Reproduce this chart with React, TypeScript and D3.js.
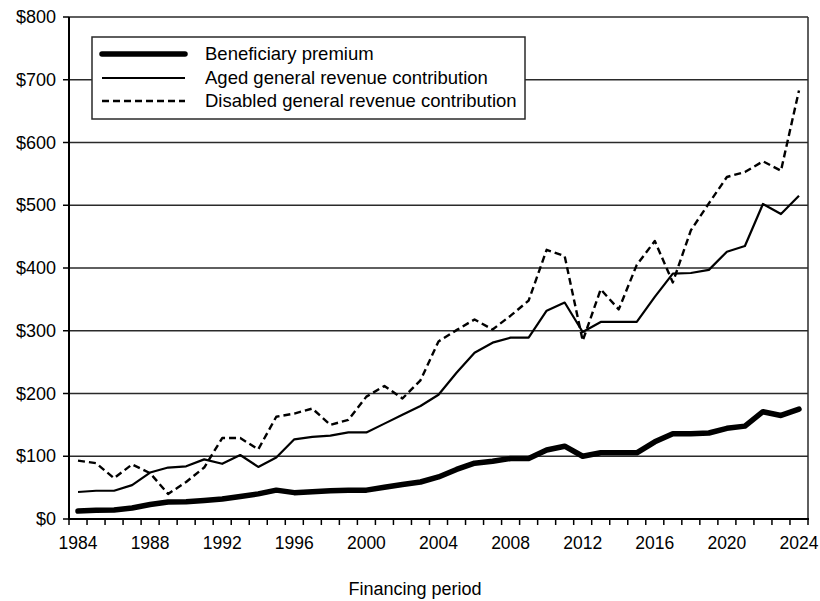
import React from "react";
import * as d3 from "d3";

const years: number[] = d3.range(1984, 2025);

const premium: number[] = [
  12.7, 14, 14.5, 17.5, 23, 27, 27.5, 29.5, 32, 36, 40, 46, 42, 43.5, 45, 46, 46, 50.5, 55, 59,
  67, 79, 89, 92, 96.5, 96.5, 110, 116, 100, 105.5, 105.5, 105.5, 123, 136, 136, 137, 144.5, 148,
  171, 165, 175,
];

const aged: number[] = [
  43, 45, 45, 54, 74, 82, 84, 95, 88, 102, 83, 98, 127, 131, 133, 138, 138, 152, 166, 180, 198,
  233, 265, 281, 289, 289, 332, 345, 298, 314, 314, 314, 354, 391, 392, 397, 426, 435, 502, 486,
  515,
];

const disabled: number[] = [
  93, 89, 65, 87, 73, 40, 59, 82, 129, 129, 111, 163, 168, 176, 150, 158, 195, 212, 192, 221, 283,
  301, 318, 302, 324, 348, 429, 419, 284, 366, 334, 405, 443, 377, 460, 503, 545, 553, 570, 555,
  683,
];

const seriesNames: string[] = [
  "Beneficiary premium",
  "Aged general revenue contribution",
  "Disabled general revenue contribution",
];

const yTicks: number[] = [0, 100, 200, 300, 400, 500, 600, 700, 800];
const xTickLabels: number[] = [1984, 1988, 1992, 1996, 2000, 2004, 2008, 2012, 2016, 2020, 2024];
const xTitle = "Financing period";

const W = 820;
const H = 601;
const L = 69;
const R = 808;
const T = 17;
const B = 519;
const FONT = "'Liberation Sans', Arial, sans-serif";

export default function App() {
  const x = d3
    .scaleBand<number>()
    .domain(years)
    .range([L, R])
    .paddingInner(0)
    .paddingOuter(0);
  const cx = (yr: number) => (x(yr) as number) + x.bandwidth() / 2;
  const y = d3.scaleLinear().domain([0, 800]).range([B, T]);

  const line = d3
    .line<number>()
    .x((_, i) => cx(years[i]))
    .y((d) => y(d))
    .curve(d3.curveLinear);

  const styles = [
    { data: premium, width: 5.5, dash: undefined as string | undefined },
    { data: aged, width: 2.2, dash: undefined as string | undefined },
    { data: disabled, width: 2.4, dash: "7,4" },
  ];

  const boundaries = years.map((yr) => x(yr) as number).concat([R]);

  return (
    <svg
      width={W}
      height={H}
      style={{ position: "absolute", left: 0, top: 0, background: "#fff" }}
      fontFamily={FONT}
    >
      <rect x={0} y={0} width={W} height={H} fill="#fff" />
      {/* gridlines */}
      {yTicks
        .filter((t) => t > 0)
        .map((t) => (
          <line key={t} x1={L} x2={R} y1={y(t)} y2={y(t)} stroke="#2a2a2a" strokeWidth={1.5} />
        ))}
      {/* right border */}
      <line x1={R} x2={R} y1={T} y2={B} stroke="#2a2a2a" strokeWidth={1.5} />

      {/* series */}
      {styles.map((s, i) => (
        <path
          key={i}
          d={line(s.data) || ""}
          fill="none"
          stroke="#000"
          strokeWidth={s.width}
          strokeDasharray={s.dash}
          strokeLinejoin="round"
          strokeLinecap={i === 0 ? "round" : "butt"}
        />
      ))}

      {/* axes */}
      <line x1={L} x2={L} y1={T} y2={B + 1} stroke="#000" strokeWidth={2} />
      <line x1={L - 1} x2={R + 1} y1={B} y2={B} stroke="#000" strokeWidth={2} />
      {yTicks.map((t) => (
        <g key={t}>
          <line x1={L - 6} x2={L} y1={y(t)} y2={y(t)} stroke="#000" strokeWidth={1.5} />
          <text
            x={56}
            y={y(t)}
            textAnchor="end"
            dominantBaseline="central"
            fontSize={18}
            fill="#000"
          >
            {"$" + t}
          </text>
        </g>
      ))}
      {boundaries.map((bx, i) => (
        <line key={i} x1={bx} x2={bx} y1={B} y2={B + 6} stroke="#000" strokeWidth={1.5} />
      ))}
      {xTickLabels.map((yr) => (
        <text key={yr} x={cx(yr)} y={549} textAnchor="middle" fontSize={17.5} fill="#000">
          {yr}
        </text>
      ))}
      <text x={415} y={595} textAnchor="middle" fontSize={18} fill="#000">
        {xTitle}
      </text>

      {/* legend */}
      <rect x={92} y={37} width={433} height={82} fill="#fff" stroke="#2a2a2a" strokeWidth={1.5} />
      {seriesNames.map((name, i) => {
        const ry = [54, 78, 101][i];
        return (
          <g key={name}>
            <line
              x1={102}
              x2={185}
              y1={ry}
              y2={ry}
              stroke="#000"
              strokeWidth={styles[i].width}
              strokeDasharray={styles[i].dash}
              strokeLinecap={i === 0 ? "round" : "butt"}
            />
            <text x={205} y={ry + 6} fontSize={18.5} fill="#000">
              {name}
            </text>
          </g>
        );
      })}
    </svg>
  );
}
